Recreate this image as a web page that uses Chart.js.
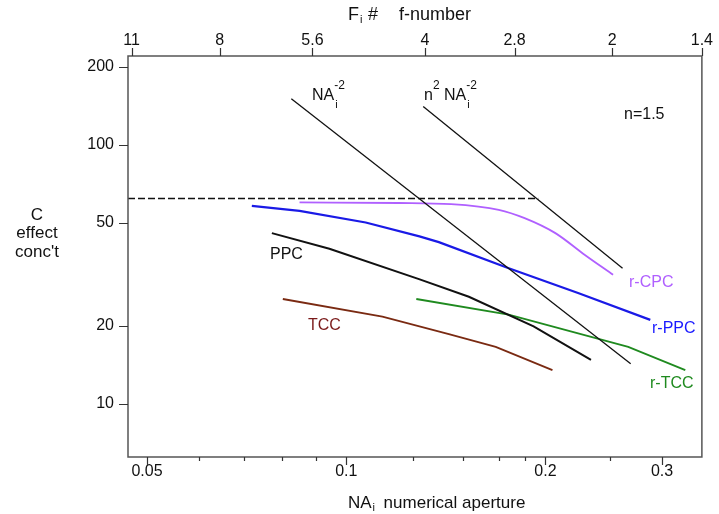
<!DOCTYPE html>
<html>
<head>
<meta charset="utf-8">
<script src="https://cdn.jsdelivr.net/npm/chart.js@4"></script>
<style>
  html, body { margin: 0; padding: 0; background: #fff; }
  #wrap { width: 719px; height: 514px; }
</style>
</head>
<body>
<div id="wrap"><canvas id="chart" width="719" height="514"></canvas></div>
<script>
/* ---- data (x = NA_i, y = C) ---- */
const rcpcNA = [0.085, 0.120, 0.144, 0.170, 0.186, 0.207, 0.228, 0.253];
const rcpcC  = [59.9, 59.6, 59.0, 56.1, 52.1, 45.6, 38.0, 31.5];

const rppcNA = [0.072, 0.085, 0.107, 0.129, 0.138, 0.176, 0.224, 0.288];
const rppcC  = [58.1, 55.6, 50.1, 44.3, 42.1, 33.4, 26.8, 21.1];

const ppcNA = [0.0772, 0.0943, 0.1288, 0.1532, 0.1919, 0.2343];
const ppcC  = [45.6, 39.7, 30.3, 25.9, 19.9, 14.8];

const rtccNA = [0.1276, 0.1759, 0.2667, 0.3253];
const rtccC  = [25.4, 22.1, 16.6, 13.5];

const tccNA = [0.0802, 0.1134, 0.1429, 0.1682, 0.2049];
const tccC  = [25.4, 21.7, 18.6, 16.6, 13.5];

const limitNA = [0.0468, 0.195];
const limitC  = [62, 62];

const invNA = [0.0826, 0.269];     // NA^-2
const invC  = [150.5, 14.3];
const n2NA  = [0.1307, 0.2615];    // n^2 NA^-2
const n2C   = [140.6, 33.4];

/* ---- axes ---- */
const naTicks  = [0.05, 0.1, 0.2, 0.3];
const naMinor  = [0.06, 0.07, 0.08, 0.09, 0.126, 0.15, 0.17, 0.186, 0.25];
const cTicks   = [10, 20, 50, 100, 200];
const fLabels  = ['11', '8', '5.6', '4', '2.8', '2', '1.4'];
const fAt      = [0.0474, 0.0644, 0.0889, 0.1315, 0.1796, 0.2523, 0.3446];

const NA_MIN = 0.0468, NA_MAX = 0.3446;
const C_MIN = 6.24, C_MAX = 220;

const FONT = '"Liberation Sans", Arial, sans-serif';

function pts(xs, ys) {
    return xs.map((x, i) => ({ x: x, y: ys[i] }));
}

function series(label, xs, ys, color, width, dash, smooth) {
    return {
        label,
        data: pts(xs, ys),
        borderColor: color,
        backgroundColor: color,
        borderWidth: width,
        borderDash: dash || [],
        showLine: true,
        pointRadius: 0,
        cubicInterpolationMode: smooth ? 'monotone' : 'default',
        tension: 0
    };
}

// frame, tick marks and the text annotations
const decor = {
    id: 'decor',
    afterDraw(chart) {
        const ctx = chart.ctx;
        const a = chart.chartArea;
        const sx = chart.scales.x, sy = chart.scales.y, st = chart.scales.x2;
        ctx.save();

        ctx.strokeStyle = '#555';
        ctx.lineWidth = 1.5;
        ctx.strokeRect(a.left, a.top, a.right - a.left, a.bottom - a.top);

        ctx.lineWidth = 1.2;
        ctx.strokeStyle = '#333';
        ctx.beginPath();
        naTicks.forEach(v => {
            const px = Math.round(sx.getPixelForValue(v)) + 0.5;
            ctx.moveTo(px, a.bottom); ctx.lineTo(px, a.bottom + 8);
        });
        naMinor.forEach(v => {
            const px = Math.round(sx.getPixelForValue(v)) + 0.5;
            ctx.moveTo(px, a.bottom); ctx.lineTo(px, a.bottom + 4);
        });
        fAt.forEach(v => {
            const px = Math.round(st.getPixelForValue(v)) + 0.5;
            ctx.moveTo(px, a.top); ctx.lineTo(px, a.top - 8);
        });
        cTicks.forEach(v => {
            const py = Math.round(sy.getPixelForValue(v)) + 0.5;
            ctx.moveTo(a.left, py); ctx.lineTo(a.left - 9, py);
        });
        ctx.stroke();

        ctx.textBaseline = 'middle';
        const txt = (s, x, y, size, color, align) => {
            ctx.font = size + 'px ' + FONT;
            ctx.fillStyle = color || '#111';
            ctx.textAlign = align || 'left';
            ctx.fillText(s, x, y);
            return ctx.measureText(s).width;
        };

        // NA_i^-2
        let w = txt('NA', 312, 96, 16);
        txt('i', 312 + w + 1, 105, 11);
        txt('-2', 312 + w, 86, 12);
        // n^2 NA_i^-2
        w = txt('n', 424, 96, 16);
        txt('2', 424 + w, 86, 12);
        const nx = 444;
        w = txt('NA', nx, 96, 16);
        txt('i', nx + w + 1, 105, 11);
        txt('-2', nx + w, 86, 12);

        txt('n=1.5', 624, 115, 16);
        txt('PPC', 270, 255, 16);
        txt('TCC', 308, 326, 16, '#7a1a1a');
        txt('r-CPC', 629, 283, 16, '#b060ff');
        txt('r-PPC', 652, 329, 16, '#1a1aff');
        txt('r-TCC', 650, 384, 16, '#1f8a1f');

        // y title
        txt('C', 37, 215, 17, '#111', 'center');
        txt('effect', 37, 233, 17, '#111', 'center');
        txt("conc't", 37, 252, 17, '#111', 'center');

        // top title
        w = txt('F', 348, 15, 18);
        txt('i', 348 + w + 1, 20, 11);
        txt('#', 368, 15, 18);
        txt('f-number', 399, 15, 18);

        // bottom title
        w = txt('NA', 348, 503, 17);
        txt('i', 348 + w + 1, 508, 11);
        txt('numerical aperture', 348 + w + 12, 503, 17);

        ctx.restore();
    }
};

const tickFont = { family: FONT, size: 16 };

new Chart(document.getElementById('chart'), {
    type: 'scatter',
    data: {
        datasets: [
            series('limit', limitNA, limitC, '#111', 1.5, [7, 3]),
            series('NA^-2', invNA, invC, '#111', 1.3),
            series('n^2 NA^-2', n2NA, n2C, '#111', 1.3),
            series('r-CPC', rcpcNA, rcpcC, '#b060ff', 1.8, null, true),
            series('r-PPC', rppcNA, rppcC, '#1a1ae6', 2.2),
            series('PPC', ppcNA, ppcC, '#111', 2),
            series('r-TCC', rtccNA, rtccC, '#1f8a1f', 1.8),
            series('TCC', tccNA, tccC, '#7a2a12', 1.8)
        ]
    },
    options: {
        responsive: false,
        animation: false,
        devicePixelRatio: 1,
        layout: { padding: { left: 0, right: 15, top: 0, bottom: 0 } },
        plugins: { legend: { display: false }, tooltip: { enabled: false } },
        scales: {
            x: {
                type: 'logarithmic',
                position: 'bottom',
                min: NA_MIN, max: NA_MAX,
                afterBuildTicks: s => { s.ticks = naTicks.map(v => ({ value: v })); },
                afterFit: s => { s.height = 57; },
                grid: { display: false, drawTicks: false },
                border: { display: false },
                ticks: {
                    font: tickFont, color: '#111', padding: 5,
                    maxRotation: 0, autoSkip: false,
                    callback: v => String(v)
                }
            },
            x2: {
                type: 'logarithmic',
                axis: 'x',
                position: 'top',
                min: NA_MIN, max: NA_MAX,
                afterBuildTicks: s => { s.ticks = fAt.map(v => ({ value: v })); },
                afterFit: s => { s.height = 56; },
                grid: { display: false, drawTicks: false },
                border: { display: false },
                ticks: {
                    font: tickFont, color: '#111', padding: 6,
                    maxRotation: 0, autoSkip: false,
                    callback: (v, i) => fLabels[i]
                }
            },
            y: {
                type: 'logarithmic',
                min: C_MIN, max: C_MAX,
                afterBuildTicks: s => { s.ticks = cTicks.map(v => ({ value: v })); },
                afterFit: s => { s.width = 128; },
                grid: { display: false, drawTicks: false },
                border: { display: false },
                ticks: {
                    font: tickFont, color: '#111', padding: 14,
                    autoSkip: false,
                    callback: v => String(v)
                }
            }
        }
    },
    plugins: [decor]
});
</script>
</body>
</html>
